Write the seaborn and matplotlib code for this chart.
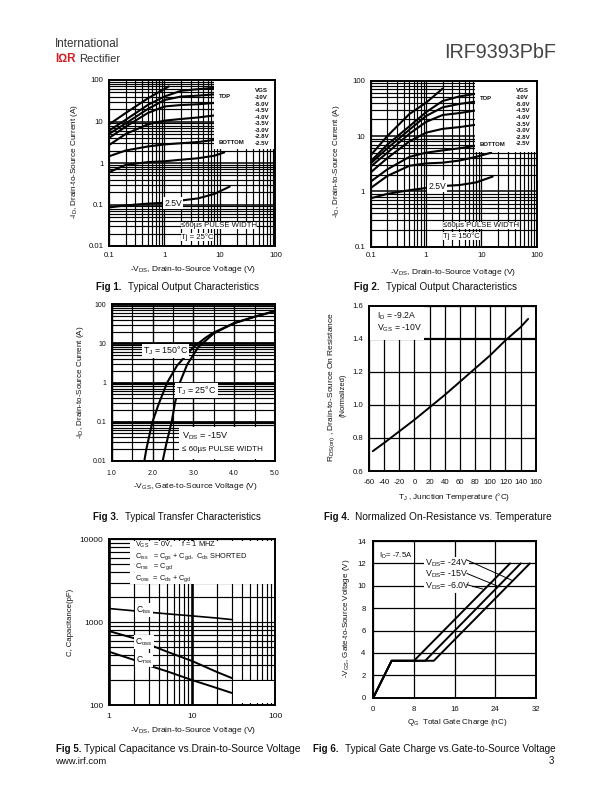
import matplotlib
matplotlib.use("Agg")
import matplotlib.pyplot as plt
from matplotlib.patches import Rectangle
from matplotlib.ticker import LogLocator, NullFormatter, FixedLocator, FuncFormatter
import seaborn as sns

sns.set_theme(style="white")
plt.rcParams["font.family"] = ["Liberation Sans", "DejaVu Sans"]
plt.rcParams["mathtext.default"] = "regular"
plt.rcParams["text.color"] = "#111111"
plt.rcParams["axes.unicode_minus"] = False

# ---------- data ----------
VDS_PTS = [0.1, 0.2, 0.5, 1, 2, 4, 8]
FIG1_10V_X = [0.1, 0.2, 0.5, 1.2]
FIG1_10V_Y = [8.5, 16, 36, 70]
FIG1_50 = [6, 11, 25, 40, 55, 60, 65]
FIG1_45 = [5, 9, 20, 33, 40, 42, 45]
FIG1_40 = [4, 7.5, 16, 23, 25, 26, 28]
FIG1_35 = [2.7, 5, 8.5, 10.5, 11.5, 12.5, 14]
FIG1_30 = [1.45, 2, 2.5, 2.8, 3, 3.2, 3.6]
FIG1_28_X = [0.1, 0.2, 0.5, 1, 2, 4, 8, 12]
FIG1_28 = [0.6, 0.9, 1.05, 1.1, 1.2, 1.3, 1.5, 1.8]
FIG1_25_X = [0.1, 0.2, 0.5, 1, 2, 4, 8, 15]
FIG1_25 = [0.085, 0.095, 0.105, 0.11, 0.125, 0.14, 0.18, 0.27]

FIG2_10V_X = [0.1, 0.2, 0.5, 1, 2]
FIG2_10V_Y = [4.5, 10, 25, 40, 72]
FIG2_50 = [3.5, 7, 15, 27, 43, 52, 58]
FIG2_45 = [3.2, 6, 13, 23, 33, 38, 42]
FIG2_40 = [2.8, 5, 11, 18, 24, 26, 29]
FIG2_35 = [2.2, 4, 8, 11.5, 13.5, 14.5, 16]
FIG2_30 = [1.5, 2.5, 4.2, 5, 5.5, 6, 6.7]
FIG2_28_X = [0.1, 0.2, 0.5, 1, 2, 4, 8, 15]
FIG2_28 = [1.15, 1.9, 2.9, 3.2, 3.3, 3.6, 4.2, 5]
FIG2_25_X = [0.1, 0.2, 0.5, 1, 2, 4, 8, 16]
FIG2_25 = [0.75, 0.9, 1.05, 1.15, 1.25, 1.3, 1.45, 1.85]

VGS_LABELS = ["VGS", "-10V", "-5.0V", "-4.5V", "-4.0V", "-3.5V", "-3.0V", "-2.8V", "-2.5V"]

FIG3_150_X = [1.8, 1.85, 1.95, 2.0, 2.15, 2.36, 2.6, 3.0, 3.3, 3.5, 4.0, 4.5, 5.0]
FIG3_150_Y = [0.01, 0.02, 0.06, 0.1, 0.28, 1, 2.7, 8, 14, 19, 33, 48, 67]
FIG3_25_X = [2.25, 2.33, 2.47, 2.55, 2.67, 2.85, 3.12, 3.5, 4.0, 4.5, 5.0]
FIG3_25_Y = [0.01, 0.025, 0.1, 0.3, 1, 2.9, 8, 18, 33, 48, 67]

FIG4_T = [-55, -40, -20, 0, 20, 40, 60, 80, 100, 120, 140, 150]
FIG4_R = [0.72, 0.77, 0.84, 0.91, 0.985, 1.06, 1.14, 1.22, 1.30, 1.39, 1.47, 1.52]

FIG5_V = [1, 2, 3, 5, 10, 20, 30]
FIG5_CISS = [1460, 1370, 1320, 1260, 1190, 1120, 1075]
FIG5_COSS = [780, 640, 540, 440, 340, 250, 212]
FIG5_CRSS = [440, 350, 300, 255, 200, 160, 140]

FIG6_A_X, FIG6_A_Y = [0, 3.6, 8.0, 26.9], [0, 3.3, 3.3, 12]
FIG6_B_X, FIG6_B_Y = [0, 3.6, 10.2, 29.0], [0, 3.3, 3.3, 12]
FIG6_C_X, FIG6_C_Y = [0, 3.6, 11.9, 30.8], [0, 3.3, 3.3, 12]

W, H = 612, 792
fig = plt.figure(figsize=(W / 100, H / 100), dpi=100, facecolor="white")


def axes_px(l, t, r, b):
    ax = fig.add_axes([l / W, 1 - b / H, (r - l) / W, (b - t) / H])
    ax.set_facecolor("white")
    return ax


def ftext(x, y, s, **kw):
    kw.setdefault("fontsize", 6.4)
    kw.setdefault("ha", "left")
    kw.setdefault("va", "center")
    return fig.text(x / W, 1 - y / H, s, **kw)


def curve(ax, x, y, lw=1.5):
    sns.lineplot(x=x, y=y, ax=ax, color="black", linewidth=lw, estimator=None,
                 sort=False, legend=False, zorder=3)


def finish(ax, spine=1.4):
    ax.set_xlabel("")
    ax.set_ylabel("")
    for s in ax.spines.values():
        s.set_visible(True)
        s.set_color("black")
        s.set_linewidth(spine)
        s.set_zorder(6)
    ax.tick_params(which="both", length=0, labelsize=5.6, pad=4, colors="#111111")


def loggrid(ax, axis, major_lw, minor_lw):
    a = getattr(ax, axis + "axis")
    a.set_major_locator(LogLocator(base=10, numticks=10))
    a.set_minor_locator(LogLocator(base=10, subs=range(2, 10), numticks=10))
    a.set_minor_formatter(NullFormatter())
    a.set_major_formatter(FuncFormatter(lambda v, p: f"{v:g}"))
    ax.grid(True, which="major", axis=axis, color="black", lw=major_lw, zorder=1)
    ax.grid(True, which="minor", axis=axis, color="black", lw=minor_lw, zorder=1)


def white(ax, x0, y0, x1, y1, zorder=4):
    ax.add_patch(Rectangle((x0, y0), x1 - x0, y1 - y0, fc="white", ec="none", zorder=zorder))


WB = dict(facecolor="white", edgecolor="none", pad=0.8)
WB_TIGHT = dict(facecolor="white", edgecolor="none", pad=0.1)


def label(ax, x, y, s, fs=6.6, **kw):
    kw.setdefault("ha", "center")
    kw.setdefault("va", "center")
    ax.text(x, y, s, fontsize=fs, bbox=WB, zorder=5, **kw)


# ---------- Fig 1 ----------
ax1 = axes_px(109, 80, 275.3, 246)
for x, y in [(FIG1_10V_X, FIG1_10V_Y), (VDS_PTS, FIG1_50), (VDS_PTS, FIG1_45), (VDS_PTS, FIG1_40),
             (VDS_PTS, FIG1_35), (VDS_PTS, FIG1_30), (FIG1_28_X, FIG1_28), (FIG1_25_X, FIG1_25)]:
    curve(ax1, x, y)
ax1.set_xscale("log"); ax1.set_yscale("log")
ax1.set_xlim(0.1, 100); ax1.set_ylim(0.01, 100)
loggrid(ax1, "x", 0.9, 0.85); loggrid(ax1, "y", 1.1, 0.85)
white(ax1, 7.7, 2.2, 100, 93)
label(ax1, 1.45, 0.108, "2.5V", fs=6.2)
ax1.text(2.0, 0.0315, "\u226460\u00b5s PULSE WIDTH", fontsize=5.6, va="center", bbox=WB_TIGHT, zorder=5)
ax1.text(2.0, 0.0165, "Tj = 25\u00b0C", fontsize=5.6, va="center", bbox=WB_TIGHT, zorder=5)
finish(ax1)
for i, t in enumerate(VGS_LABELS):
    ftext(255, 91 + 6.55 * i, t, fontsize=4.4, fontweight="bold")
ftext(219, 97, "TOP", fontsize=4.3, fontweight="bold")
ftext(219, 143, "BOTTOM", fontsize=4.3, fontweight="bold")

# ---------- Fig 2 ----------
ax2 = axes_px(370.7, 80.7, 536.7, 246.7)
for x, y in [(FIG2_10V_X, FIG2_10V_Y), (VDS_PTS, FIG2_50), (VDS_PTS, FIG2_45), (VDS_PTS, FIG2_40),
             (VDS_PTS, FIG2_35), (VDS_PTS, FIG2_30), (FIG2_28_X, FIG2_28), (FIG2_25_X, FIG2_25)]:
    curve(ax2, x, y)
ax2.set_xscale("log"); ax2.set_yscale("log")
ax2.set_xlim(0.1, 100); ax2.set_ylim(0.1, 100)
loggrid(ax2, "x", 0.9, 0.85); loggrid(ax2, "y", 1.1, 0.85)
white(ax2, 7.8, 5.1, 100, 93)
label(ax2, 1.58, 1.25, "2.5V", fs=6.2)
ax2.text(2.0, 0.242, "\u226460\u00b5s PULSE WIDTH", fontsize=5.6, va="center", bbox=WB_TIGHT, zorder=5)
ax2.text(2.0, 0.154, "Tj = 150\u00b0C", fontsize=5.6, va="center", bbox=WB_TIGHT, zorder=5)
finish(ax2)
for i, t in enumerate(VGS_LABELS):
    ftext(516, 91 + 6.6 * i, t, fontsize=4.4, fontweight="bold")
ftext(480, 98, "TOP", fontsize=4.3, fontweight="bold")
ftext(480, 144, "BOTTOM", fontsize=4.3, fontweight="bold")

# ---------- Fig 3 ----------
ax3 = axes_px(111.7, 304.3, 275, 460.7)
curve(ax3, FIG3_150_X, FIG3_150_Y, 1.5)
curve(ax3, FIG3_25_X, FIG3_25_Y, 1.5)
ax3.set_yscale("log")
ax3.set_xlim(1, 5); ax3.set_ylim(0.01, 100)
loggrid(ax3, "y", 2.0, 0.85)
ax3.xaxis.set_major_locator(FixedLocator([1, 2, 3, 4, 5]))
ax3.xaxis.set_minor_locator(FixedLocator([1.5, 2.5, 3.5, 4.5]))
ax3.xaxis.set_major_formatter(FuncFormatter(lambda v, p: f"{v:.1f}"))
ax3.xaxis.set_minor_formatter(NullFormatter())
ax3.grid(True, which="major", axis="x", color="black", lw=1.0, zorder=1)
ax3.grid(True, which="minor", axis="x", color="black", lw=0.85, zorder=1)
white(ax3, 2.65, 0.0112, 4.98, 0.072, zorder=2)
label(ax3, 2.32, 6.4, "T$_J$ = 150\u00b0C", fs=6.4)
label(ax3, 3.08, 0.62, "T$_J$ = 25\u00b0C", fs=6.4)
ax3.text(2.72, 0.042, "V$_{DS}$ = -15V", fontsize=6.6, va="center", zorder=5)
ax3.text(2.72, 0.0195, "\u2264 60\u00b5s PULSE WIDTH", fontsize=5.8, va="center", zorder=5)
finish(ax3)
ax3.tick_params(axis="both", labelsize=5.0)
ax3.tick_params(axis="x", pad=7)

# ---------- Fig 4 ----------
ax4 = axes_px(369, 305.7, 535.7, 471)
curve(ax4, FIG4_T, FIG4_R, 1.4)
ax4.set_xlim(-60, 160); ax4.set_ylim(0.6, 1.6)
ax4.xaxis.set_major_locator(FixedLocator(list(range(-60, 161, 20))))
ax4.yaxis.set_major_locator(FixedLocator([0.6, 0.8, 1.0, 1.2, 1.4, 1.6]))
ax4.yaxis.set_major_formatter(FuncFormatter(lambda v, p: f"{v:.1f}"))
ax4.grid(True, which="major", color="black", lw=0.9, zorder=1)
for ln, v in zip(ax4.get_ygridlines(), [0.6, 0.8, 1.0, 1.2, 1.4, 1.6]):
    if v == 1.4:
        ln.set_linewidth(1.6)
white(ax4, -59, 1.395, 12, 1.6, zorder=2)
ax4.text(-50, 1.54, "I$_D$ = -9.2A", fontsize=6.2, va="center", zorder=5)
ax4.text(-50, 1.465, "V$_{GS}$ = -10V", fontsize=6.2, va="center", zorder=5)
finish(ax4)
ax4.tick_params(axis="both", labelsize=5.6)
ax4.tick_params(axis="x", pad=6)

# ---------- Fig 5 ----------
ax5 = axes_px(109, 539.3, 275, 705)
curve(ax5, FIG5_V, FIG5_CISS, 1.2)
curve(ax5, FIG5_V, FIG5_COSS, 1.4)
curve(ax5, FIG5_V, FIG5_CRSS, 1.4)
ax5.set_xscale("log"); ax5.set_yscale("log")
ax5.set_xlim(1, 100); ax5.set_ylim(100, 10000)
loggrid(ax5, "x", 1.9, 0.85); loggrid(ax5, "y", 0.85, 0.85)
white(ax5, 1.8, 2850, 100, 9600, zorder=2)
white(ax5, 31, 106, 99, 197, zorder=2)
label(ax5, 2.65, 1400, "C$_{iss}$", fs=6.2)
label(ax5, 2.65, 575, "C$_{oss}$", fs=6.2)
label(ax5, 2.65, 350, "C$_{rss}$", fs=6.2)
for yp, s in [(8500, "V$_{GS}$   = 0V,     f = 1 MHZ"),
              (6250, "C$_{iss}$   = C$_{gs}$ + C$_{gd}$,  C$_{ds}$ SHORTED"),
              (4650, "C$_{rss}$   = C$_{gd}$"),
              (3390, "C$_{oss}$  = C$_{ds}$ + C$_{gd}$")]:
    ax5.text(2.06, yp, s, fontsize=5.3, va="center", zorder=5)
finish(ax5)
ax5.tick_params(axis="both", labelsize=6.0)
ax5.tick_params(axis="x", pad=6)

# ---------- Fig 6 ----------
ax6 = axes_px(373.3, 541, 536, 697.7)
curve(ax6, FIG6_A_X, FIG6_A_Y, 1.4)
curve(ax6, FIG6_B_X, FIG6_B_Y, 1.4)
curve(ax6, FIG6_C_X, FIG6_C_Y, 1.4)
ax6.set_xlim(0, 32); ax6.set_ylim(0, 14)
ax6.xaxis.set_major_locator(FixedLocator([0, 8, 16, 24, 32]))
ax6.yaxis.set_major_locator(FixedLocator(list(range(0, 15, 2))))
ax6.grid(True, which="major", color="black", lw=0.9, zorder=1)
white(ax6, 1, 12.1, 8, 13.7, zorder=2)
ax6.text(1.2, 12.7, "I$_D$= -7.5A", fontsize=5.6, va="center", zorder=5)
for yp, s in [(12, "V$_{DS}$= -24V"), (11.0, "V$_{DS}$= -15V"), (10.0, "V$_{DS}$= -6.0V")]:
    ax6.text(10.2, yp, s, fontsize=6.4, va="center", bbox=WB, zorder=5)
for (xa, ya, xb, yb) in [(18.4, 12.3, 27.2, 10.5), (18.4, 11.1, 24.3, 10.0), (18.4, 10.1, 21.6, 9.7)]:
    ax6.annotate("", xy=(xb, yb), xytext=(xa, ya), zorder=5,
                 arrowprops=dict(arrowstyle="-", color="black", lw=0.7, shrinkA=0, shrinkB=0))
finish(ax6)
ax6.tick_params(axis="both", labelsize=5.6)
ax6.tick_params(axis="x", pad=6)
ax6.tick_params(axis="y", pad=5.5)

# ---------- axis titles, placed in page coordinates ----------
ftext(193, 270, "-V$_{DS}$, Drain-to-Source Voltage (V)", ha="center", fontsize=6.0)
ftext(453, 272, "-V$_{DS}$, Drain-to-Source Voltage (V)", ha="center", fontsize=6.0)
ftext(195, 486, "-V$_{GS}$, Gate-to-Source Voltage (V)", ha="center", fontsize=6.0)
ftext(454, 497, "T$_J$ , Junction Temperature (\u00b0C)", ha="center", fontsize=5.9)
ftext(193, 731, "-V$_{DS}$, Drain-to-Source Voltage (V)", ha="center", fontsize=6.0)
ftext(457, 723, "Q$_G$  Total Gate Charge (nC)", ha="center", fontsize=5.8)

ftext(75, 161, "-I$_D$, Drain-to-Source Current (A)", rotation=90, ha="center", fontsize=5.9)
ftext(337, 161, "-I$_D$, Drain-to-Source Current (A)", rotation=90, ha="center", fontsize=5.8)
ftext(80, 382, "-I$_D$, Drain-to-Source Current (A)", rotation=90, ha="center", fontsize=5.8)
ftext(332, 387, "R$_{DS(on)}$ , Drain-to-Source On Resistance", rotation=90, ha="center", fontsize=6.0)
ftext(343, 395, "(Normalized)", rotation=90, ha="center", fontsize=5.4)
ftext(70, 622, "C, Capacitance(pF)", rotation=90, ha="center", fontsize=5.6)
ftext(347, 618, "-V$_{GS}$, Gate-to-Source Voltage (V)", rotation=90, ha="center", fontsize=5.8)

# ---------- captions ----------
CAPS = [(96, 287, "Fig 1.", "Typical Output Characteristics", 128, 7.1),
        (354, 287, "Fig 2.", "Typical Output Characteristics", 386, 7.1),
        (93, 517, "Fig 3.", "Typical Transfer Characteristics", 125, 7.05),
        (324, 517, "Fig 4.", "Normalized On-Resistance vs. Temperature", 355, 7.27),
        (56, 749, "Fig 5.", "Typical Capacitance vs.Drain-to-Source Voltage", 84, 7.35),
        (313, 749, "Fig 6.", "Typical Gate Charge vs.Gate-to-Source Voltage", 345, 7.2)]
for xa, yc, a, b, xb, fs in CAPS:
    ftext(xa, yc, a, fontsize=7.0, fontweight="bold")
    ftext(xb, yc, b, fontsize=fs)
ftext(55, 761, "www.irf.com", fontsize=6.8)
ftext(549, 761, "3", fontsize=7.0)

# ---------- header ----------
ftext(556, 52, "IRF9393PbF", ha="right", fontsize=14.2, color="#444444")
ftext(55, 44, "International", fontsize=8.4, color="#333333")
ftext(55, 59, "I\u2126R", fontsize=8.4, color="#d22027", fontweight="bold")
ftext(79, 59, "Rectifier", fontsize=8.0, color="#333333")

fig.savefig("out.png", dpi=100, facecolor="white")
